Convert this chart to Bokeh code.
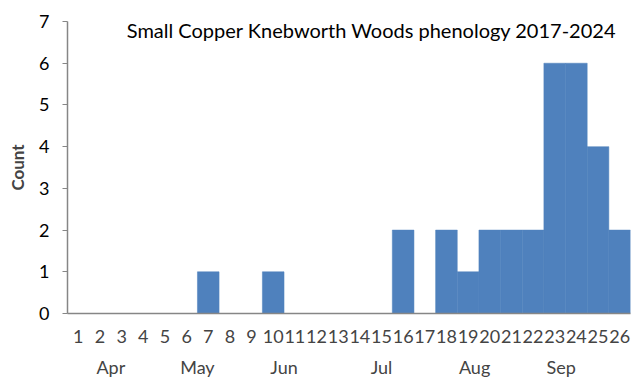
from bokeh.plotting import figure
from bokeh.models import FixedTicker, LinearAxis, Label, Range1d
from bokeh.embed import file_html
from bokeh.resources import INLINE

weeks = list(range(1, 27))
counts = [0, 0, 0, 0, 0, 0, 1, 0, 0, 1, 0, 0, 0, 0, 0, 2, 0, 2, 1, 2, 2, 2, 6, 6, 4, 2]
month_labels = ["Apr", "May", "Jun", "Jul", "Aug", "Sep"]
month_pos = [2.5, 6.5, 10.5, 15.0, 19.3, 23.3]
title_text = "Small Copper Knebworth Woods phenology 2017-2024"

FONT = "Lato"
GREY = "#868686"

p = figure(width=643, height=381, output_backend="svg", toolbar_location=None,
           x_range=Range1d(0.5, 26.5), y_range=Range1d(0, 7),
           min_border_left=67, min_border_right=13, min_border_top=21, min_border_bottom=68,
           x_axis_location=None)
p.outline_line_color = None
p.xgrid.grid_line_color = None
p.ygrid.grid_line_color = None
p.background_fill_color = "white"
p.border_fill_color = "white"

p.vbar(x=weeks, top=counts, width=1.0, bottom=0, fill_color="#4F81BD", line_color="#4F81BD", line_width=0.5)

# y axis
ya = p.yaxis[0]
ya.ticker = FixedTicker(ticks=list(range(0, 8)))
ya.axis_line_color = GREY
ya.axis_line_width = 1.5
ya.major_tick_line_color = GREY
ya.major_tick_out = 5
ya.major_tick_in = 0
ya.minor_tick_line_color = None
ya.major_label_text_font = FONT
ya.major_label_text_font_size = "18px"
ya.major_label_text_color = "black"
ya.major_label_standoff = 13
ya.axis_label = "Count"
ya.axis_label_text_font = FONT
ya.axis_label_text_font_size = "17px"
ya.axis_label_text_font_style = "bold"
ya.axis_label_standoff = 8

# week axis
xa = LinearAxis(ticker=FixedTicker(ticks=weeks),
                major_label_overrides={w: str(w) for w in weeks})
xa.axis_line_color = GREY
xa.axis_line_width = 1.5
xa.major_tick_line_color = None
xa.minor_tick_line_color = None
xa.major_tick_out = 0
xa.major_tick_in = 0
xa.major_label_text_font = FONT
xa.major_label_text_font_size = "18px"
xa.major_label_standoff = 16
p.add_layout(xa, "below")

# month axis
ma = LinearAxis(ticker=FixedTicker(ticks=month_pos),
                major_label_overrides={m: l for m, l in zip(month_pos, month_labels)})
ma.axis_line_color = None
ma.major_tick_line_color = None
ma.minor_tick_line_color = None
ma.major_tick_out = 0
ma.major_tick_in = 0
ma.major_label_text_font = FONT
ma.major_label_text_font_size = "18px"
ma.major_label_standoff = 10
p.add_layout(ma, "below")

p.add_layout(Label(x=14.55, y=6.8, text=title_text, text_align="center", text_baseline="middle",
                   text_font=FONT, text_font_size="20px", text_color="black"))

open("out.html", "w").write(file_html(p, INLINE))
